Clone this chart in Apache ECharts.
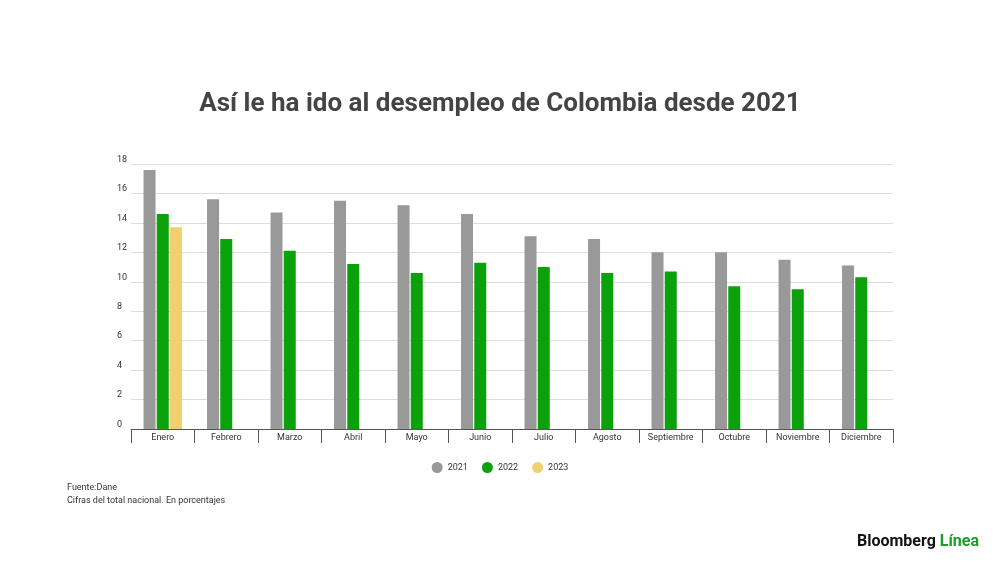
<!DOCTYPE html>
<html><head><meta charset="utf-8">
<script src="https://cdn.jsdelivr.net/npm/echarts@6/dist/echarts.min.js"></script>
<style>html,body{margin:0;background:#fff}#c{width:1000px;height:562px}</style>
</head><body><div id="c"></div>
<script>
const categories=['Enero','Febrero','Marzo','Abril','Mayo','Junio','Julio','Agosto','Septiembre','Octubre','Noviembre','Diciembre'];
const s2021=[17.6,15.6,14.7,15.5,15.2,14.6,13.1,12.9,12.0,12.0,11.5,11.1];
const s2022=[14.6,12.9,12.1,11.2,10.6,11.3,11.0,10.6,10.7,9.7,9.5,10.3];
const s2023=[13.7,null,null,null,null,null,null,null,null,null,null,null];
const ch=echarts.init(document.getElementById('c'));
const F='Roboto';
ch.setOption({
 animation:false,
 textStyle:{fontFamily:F},
 title:[{text:'Así le ha ido al desempleo de Colombia desde 2021',left:'center',top:86,textStyle:{fontSize:26,fontWeight:'bold',color:'#444',fontFamily:F}},
  {text:'Fuente:Dane',left:62,top:478,textStyle:{fontSize:9,fontWeight:'normal',color:'#333'}},
  {text:'Cifras del total nacional. En porcentajes',left:62,top:491,textStyle:{fontSize:9,fontWeight:'normal',color:'#333'}},
  {text:'Bloomberg {g|Línea}',left:852,top:529,textStyle:{fontSize:16,fontWeight:'bold',color:'#111',rich:{g:{fontSize:16,fontWeight:'bold',color:'#1a9e2a'}}}}],
 legend:{top:457,left:'center',itemWidth:11,itemHeight:11,icon:'circle',itemGap:14,textStyle:{fontSize:9,color:'#333'}},
 grid:{left:131,right:107,top:164,bottom:133},
 xAxis:{type:'category',data:categories,axisTick:{show:true,length:14,lineStyle:{color:'#555'}},axisLine:{lineStyle:{color:'#555'}},axisLabel:{interval:0,fontSize:9,color:'#333',margin:4}},
 yAxis:{type:'value',min:0,max:18,interval:2,splitLine:{lineStyle:{color:'#ddd'}},axisLabel:{fontSize:9,color:'#333',align:'left',margin:14,verticalAlign:'bottom'}},
 series:[
  {name:'2021',type:'bar',data:s2021,barWidth:12,barGap:'10%',itemStyle:{color:'#999999'}},
  {name:'2022',type:'bar',data:s2022,barWidth:12,barGap:'10%',itemStyle:{color:'#0aa10a'}},
  {name:'2023',type:'bar',data:s2023,barWidth:12,barGap:'10%',itemStyle:{color:'#f0d070'}}]
});
</script></body></html>
